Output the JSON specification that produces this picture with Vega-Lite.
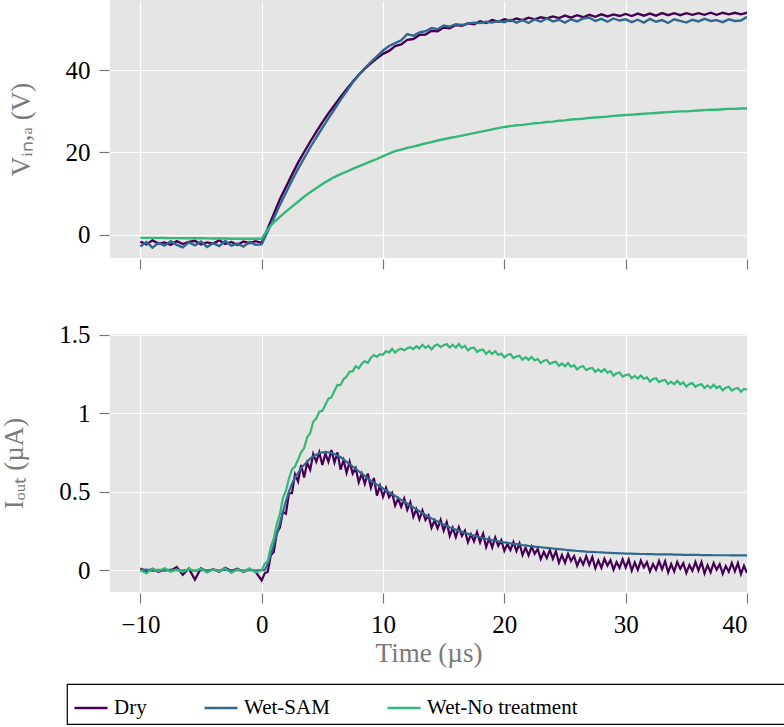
{
  "$schema": "https://vega.github.io/schema/vega-lite/v6.json",
  "padding": {"left": 0, "top": 0, "right": 0, "bottom": 0},
  "bounds": "flush",
  "spacing": 76,
  "config": {
    "font": "Liberation Serif",
    "view": {"fill": "#e5e5e5", "stroke": null},
    "axis": {
      "domain": false, "grid": true, "gridColor": "white", "gridWidth": 1.2,
      "tickColor": "#777", "tickSize": 10, "tickWidth": 1.2, "offset": 1,
      "labelFont": "Liberation Serif", "labelFontSize": 25, "labelColor": "black", "labelPadding": 9,
      "titleFont": "Liberation Serif", "titleFontSize": 27, "titleColor": "#7a7a7a", "titleFontWeight": "normal"
    },
    "legend": {
      "orient": "none", "legendX": -43, "legendY": 684,
      "direction": "horizontal", "columns": 3, "columnPadding": 52,
      "strokeColor": "black", "strokeWidth": 1.2, "padding": 6, "cornerRadius": 0,
      "symbolType": "stroke", "symbolSize": 1089, "symbolStrokeWidth": 2.5,
      "labelFont": "Liberation Serif", "labelFontSize": 21, "labelColor": "black", "labelOffset": 5, "labelLimit": 400,
      "titleOrient": "right", "titlePadding": 300, "titleFontSize": 4, "titleColor": "white"
    }
  },
  "datasets": {
    "v": [
      {"t":-10,"Dry":-1.7,"Wet-SAM":-2.9,"Wet-No treatment":-0.8},
      {"t":-9.5,"Dry":-2.4,"Wet-SAM":-1.8,"Wet-No treatment":-0.8},
      {"t":-9,"Dry":-1.4,"Wet-SAM":-3.2,"Wet-No treatment":-0.8},
      {"t":-8.5,"Dry":-2.2,"Wet-SAM":-2.0,"Wet-No treatment":-0.8},
      {"t":-8,"Dry":-1.9,"Wet-SAM":-2.7,"Wet-No treatment":-0.82},
      {"t":-7.5,"Dry":-2.5,"Wet-SAM":-1.6,"Wet-No treatment":-0.85},
      {"t":-7,"Dry":-1.6,"Wet-SAM":-2.5,"Wet-No treatment":-0.85},
      {"t":-6.5,"Dry":-2.3,"Wet-SAM":-3.1,"Wet-No treatment":-0.88},
      {"t":-6,"Dry":-1.8,"Wet-SAM":-1.9,"Wet-No treatment":-0.9},
      {"t":-5.5,"Dry":-1.5,"Wet-SAM":-2.6,"Wet-No treatment":-0.9},
      {"t":-5,"Dry":-2.4,"Wet-SAM":-1.7,"Wet-No treatment":-0.9},
      {"t":-4.5,"Dry":-1.9,"Wet-SAM":-3.0,"Wet-No treatment":-0.92},
      {"t":-4,"Dry":-2.2,"Wet-SAM":-2.1,"Wet-No treatment":-0.95},
      {"t":-3.5,"Dry":-1.4,"Wet-SAM":-2.8,"Wet-No treatment":-0.95},
      {"t":-3,"Dry":-2.3,"Wet-SAM":-1.5,"Wet-No treatment":-0.97},
      {"t":-2.5,"Dry":-1.8,"Wet-SAM":-2.7,"Wet-No treatment":-1.0},
      {"t":-2,"Dry":-2.5,"Wet-SAM":-2.2,"Wet-No treatment":-1.0},
      {"t":-1.5,"Dry":-1.7,"Wet-SAM":-2.9,"Wet-No treatment":-1.0},
      {"t":-1,"Dry":-2.1,"Wet-SAM":-1.8,"Wet-No treatment":-1.0},
      {"t":-0.5,"Dry":-1.6,"Wet-SAM":-2.5,"Wet-No treatment":-1.0},
      {"t":0,"Dry":-2.0,"Wet-SAM":-2.4,"Wet-No treatment":-1.0},
      {"t":0.5,"Dry":1.5,"Wet-SAM":0.8,"Wet-No treatment":1.3},
      {"t":1,"Dry":5.0,"Wet-SAM":4.0,"Wet-No treatment":3.0},
      {"t":1.5,"Dry":8.6,"Wet-SAM":7.2,"Wet-No treatment":4.3},
      {"t":2,"Dry":11.6,"Wet-SAM":10.2,"Wet-No treatment":5.6},
      {"t":2.5,"Dry":14.6,"Wet-SAM":13.2,"Wet-No treatment":6.8},
      {"t":3,"Dry":17.5,"Wet-SAM":16.0,"Wet-No treatment":8.0},
      {"t":3.5,"Dry":20.1,"Wet-SAM":18.6,"Wet-No treatment":9.2},
      {"t":4,"Dry":22.6,"Wet-SAM":21.2,"Wet-No treatment":10.3},
      {"t":4.5,"Dry":25.0,"Wet-SAM":23.6,"Wet-No treatment":11.3},
      {"t":5,"Dry":27.3,"Wet-SAM":26.0,"Wet-No treatment":12.3},
      {"t":5.5,"Dry":29.5,"Wet-SAM":28.3,"Wet-No treatment":13.2},
      {"t":6,"Dry":31.5,"Wet-SAM":30.5,"Wet-No treatment":14.0},
      {"t":6.5,"Dry":33.5,"Wet-SAM":32.8,"Wet-No treatment":14.7},
      {"t":7,"Dry":35.4,"Wet-SAM":34.9,"Wet-No treatment":15.3},
      {"t":7.5,"Dry":37.2,"Wet-SAM":37.0,"Wet-No treatment":16.0},
      {"t":8,"Dry":38.9,"Wet-SAM":38.8,"Wet-No treatment":16.6},
      {"t":8.5,"Dry":40.4,"Wet-SAM":40.5,"Wet-No treatment":17.2},
      {"t":9,"Dry":41.7,"Wet-SAM":42.0,"Wet-No treatment":17.8},
      {"t":9.5,"Dry":42.9,"Wet-SAM":43.4,"Wet-No treatment":18.4},
      {"t":10,"Dry":44.0,"Wet-SAM":44.8,"Wet-No treatment":19.1},
      {"t":10.5,"Dry":44.7,"Wet-SAM":45.9,"Wet-No treatment":19.7},
      {"t":11,"Dry":45.9,"Wet-SAM":46.6,"Wet-No treatment":20.3},
      {"t":11.5,"Dry":46.3,"Wet-SAM":47.3,"Wet-No treatment":20.7},
      {"t":12,"Dry":47.4,"Wet-SAM":48.8,"Wet-No treatment":21.1},
      {"t":12.5,"Dry":47.6,"Wet-SAM":48.4,"Wet-No treatment":21.4},
      {"t":13,"Dry":48.6,"Wet-SAM":49.2,"Wet-No treatment":21.8},
      {"t":13.5,"Dry":48.7,"Wet-SAM":49.5,"Wet-No treatment":22.2},
      {"t":14,"Dry":49.6,"Wet-SAM":50.3,"Wet-No treatment":22.5},
      {"t":14.5,"Dry":49.5,"Wet-SAM":50.0,"Wet-No treatment":22.9},
      {"t":15,"Dry":50.4,"Wet-SAM":50.9,"Wet-No treatment":23.2},
      {"t":15.5,"Dry":50.2,"Wet-SAM":50.6,"Wet-No treatment":23.5},
      {"t":16,"Dry":51.0,"Wet-SAM":51.2,"Wet-No treatment":23.8},
      {"t":16.5,"Dry":50.8,"Wet-SAM":51.0,"Wet-No treatment":24.1},
      {"t":17,"Dry":51.4,"Wet-SAM":51.4,"Wet-No treatment":24.4},
      {"t":17.5,"Dry":51.2,"Wet-SAM":51.6,"Wet-No treatment":24.7},
      {"t":18,"Dry":51.9,"Wet-SAM":51.5,"Wet-No treatment":25.0},
      {"t":18.5,"Dry":51.5,"Wet-SAM":51.8,"Wet-No treatment":25.3},
      {"t":19,"Dry":52.2,"Wet-SAM":51.6,"Wet-No treatment":25.6},
      {"t":19.5,"Dry":51.8,"Wet-SAM":52.0,"Wet-No treatment":25.9},
      {"t":20,"Dry":52.4,"Wet-SAM":51.7,"Wet-No treatment":26.2},
      {"t":20.5,"Dry":52.0,"Wet-SAM":52.3,"Wet-No treatment":26.4},
      {"t":21,"Dry":52.6,"Wet-SAM":51.6,"Wet-No treatment":26.6},
      {"t":21.5,"Dry":52.2,"Wet-SAM":52.2,"Wet-No treatment":26.7},
      {"t":22,"Dry":52.8,"Wet-SAM":51.5,"Wet-No treatment":26.9},
      {"t":22.5,"Dry":52.4,"Wet-SAM":52.4,"Wet-No treatment":27.1},
      {"t":23,"Dry":52.9,"Wet-SAM":51.8,"Wet-No treatment":27.2},
      {"t":23.5,"Dry":52.6,"Wet-SAM":52.6,"Wet-No treatment":27.4},
      {"t":24,"Dry":53.1,"Wet-SAM":51.9,"Wet-No treatment":27.5},
      {"t":24.5,"Dry":52.7,"Wet-SAM":52.3,"Wet-No treatment":27.7},
      {"t":25,"Dry":53.3,"Wet-SAM":51.6,"Wet-No treatment":27.8},
      {"t":25.5,"Dry":52.8,"Wet-SAM":52.4,"Wet-No treatment":28.0},
      {"t":26,"Dry":53.4,"Wet-SAM":51.9,"Wet-No treatment":28.1},
      {"t":26.5,"Dry":52.9,"Wet-SAM":52.6,"Wet-No treatment":28.2},
      {"t":27,"Dry":53.5,"Wet-SAM":52.8,"Wet-No treatment":28.4},
      {"t":27.5,"Dry":53.0,"Wet-SAM":52.0,"Wet-No treatment":28.5},
      {"t":28,"Dry":53.6,"Wet-SAM":52.5,"Wet-No treatment":28.6},
      {"t":28.5,"Dry":53.1,"Wet-SAM":51.8,"Wet-No treatment":28.7},
      {"t":29,"Dry":53.6,"Wet-SAM":52.6,"Wet-No treatment":28.9},
      {"t":29.5,"Dry":53.2,"Wet-SAM":52.1,"Wet-No treatment":29.0},
      {"t":30,"Dry":53.7,"Wet-SAM":52.4,"Wet-No treatment":29.1},
      {"t":30.5,"Dry":53.2,"Wet-SAM":51.7,"Wet-No treatment":29.2},
      {"t":31,"Dry":53.8,"Wet-SAM":52.3,"Wet-No treatment":29.3},
      {"t":31.5,"Dry":53.3,"Wet-SAM":51.6,"Wet-No treatment":29.4},
      {"t":32,"Dry":53.8,"Wet-SAM":52.5,"Wet-No treatment":29.5},
      {"t":32.5,"Dry":53.3,"Wet-SAM":51.8,"Wet-No treatment":29.6},
      {"t":33,"Dry":53.9,"Wet-SAM":52.2,"Wet-No treatment":29.7},
      {"t":33.5,"Dry":53.4,"Wet-SAM":51.5,"Wet-No treatment":29.8},
      {"t":34,"Dry":53.9,"Wet-SAM":52.4,"Wet-No treatment":29.9},
      {"t":34.5,"Dry":53.4,"Wet-SAM":52.0,"Wet-No treatment":30.0},
      {"t":35,"Dry":53.9,"Wet-SAM":51.6,"Wet-No treatment":30.0},
      {"t":35.5,"Dry":53.5,"Wet-SAM":52.3,"Wet-No treatment":30.1},
      {"t":36,"Dry":53.9,"Wet-SAM":51.9,"Wet-No treatment":30.2},
      {"t":36.5,"Dry":53.5,"Wet-SAM":52.5,"Wet-No treatment":30.3},
      {"t":37,"Dry":54.0,"Wet-SAM":52.0,"Wet-No treatment":30.4},
      {"t":37.5,"Dry":53.5,"Wet-SAM":52.2,"Wet-No treatment":30.4},
      {"t":38,"Dry":54.0,"Wet-SAM":51.7,"Wet-No treatment":30.5},
      {"t":38.5,"Dry":53.6,"Wet-SAM":52.4,"Wet-No treatment":30.6},
      {"t":39,"Dry":54.0,"Wet-SAM":52.0,"Wet-No treatment":30.6},
      {"t":39.5,"Dry":53.6,"Wet-SAM":52.1,"Wet-No treatment":30.7},
      {"t":40,"Dry":54.0,"Wet-SAM":53.0,"Wet-No treatment":30.7}
    ],
    "i": [
      {"t":-10,"Dry":0.01,"Wet-SAM":0.0,"Wet-No treatment":0.0},
      {"t":-9.5,"Dry":-0.005,"Wet-SAM":0.003,"Wet-No treatment":-0.02},
      {"t":-9,"Dry":0.008,"Wet-SAM":-0.004,"Wet-No treatment":0.01},
      {"t":-8.5,"Dry":-0.01,"Wet-SAM":0.002,"Wet-No treatment":-0.005},
      {"t":-8,"Dry":0.005,"Wet-SAM":-0.003,"Wet-No treatment":0.012},
      {"t":-7.5,"Dry":-0.004,"Wet-SAM":0.004,"Wet-No treatment":-0.01},
      {"t":-7,"Dry":0.02,"Wet-SAM":0.0,"Wet-No treatment":0.005},
      {"t":-6.5,"Dry":-0.03,"Wet-SAM":-0.002,"Wet-No treatment":-0.012},
      {"t":-6,"Dry":0.01,"Wet-SAM":0.003,"Wet-No treatment":0.008},
      {"t":-5.5,"Dry":-0.06,"Wet-SAM":-0.004,"Wet-No treatment":-0.006},
      {"t":-5,"Dry":0.012,"Wet-SAM":0.002,"Wet-No treatment":0.01},
      {"t":-4.5,"Dry":-0.008,"Wet-SAM":-0.003,"Wet-No treatment":-0.015},
      {"t":-4,"Dry":0.006,"Wet-SAM":0.004,"Wet-No treatment":0.004},
      {"t":-3.5,"Dry":-0.01,"Wet-SAM":-0.002,"Wet-No treatment":-0.008},
      {"t":-3,"Dry":0.015,"Wet-SAM":0.003,"Wet-No treatment":0.012},
      {"t":-2.5,"Dry":-0.005,"Wet-SAM":-0.004,"Wet-No treatment":-0.018},
      {"t":-2,"Dry":0.01,"Wet-SAM":0.002,"Wet-No treatment":0.006},
      {"t":-1.5,"Dry":-0.012,"Wet-SAM":-0.003,"Wet-No treatment":-0.01},
      {"t":-1,"Dry":0.008,"Wet-SAM":0.001,"Wet-No treatment":0.012},
      {"t":-0.5,"Dry":-0.01,"Wet-SAM":-0.002,"Wet-No treatment":-0.015},
      {"t":0,"Dry":-0.065,"Wet-SAM":0.0,"Wet-No treatment":0.0},
      {"t":0.25,"Dry":-0.02,"Wet-SAM":0.0,"Wet-No treatment":0.04},
      {"t":0.5,"Dry":-0.01,"Wet-SAM":0.04,"Wet-No treatment":0.058},
      {"t":0.75,"Dry":0.095,"Wet-SAM":0.10,"Wet-No treatment":0.146},
      {"t":1,"Dry":0.116,"Wet-SAM":0.16,"Wet-No treatment":0.202},
      {"t":1.25,"Dry":0.237,"Wet-SAM":0.23,"Wet-No treatment":0.295},
      {"t":1.5,"Dry":0.271,"Wet-SAM":0.30,"Wet-No treatment":0.356},
      {"t":1.75,"Dry":0.371,"Wet-SAM":0.37,"Wet-No treatment":0.459},
      {"t":2,"Dry":0.36,"Wet-SAM":0.44,"Wet-No treatment":0.505},
      {"t":2.25,"Dry":0.49,"Wet-SAM":0.50,"Wet-No treatment":0.584},
      {"t":2.5,"Dry":0.49,"Wet-SAM":0.55,"Wet-No treatment":0.642},
      {"t":2.75,"Dry":0.61,"Wet-SAM":0.59,"Wet-No treatment":0.66},
      {"t":3,"Dry":0.565,"Wet-SAM":0.62,"Wet-No treatment":0.703},
      {"t":3.25,"Dry":0.67,"Wet-SAM":0.65,"Wet-No treatment":0.75},
      {"t":3.5,"Dry":0.59,"Wet-SAM":0.67,"Wet-No treatment":0.778},
      {"t":3.75,"Dry":0.685,"Wet-SAM":0.69,"Wet-No treatment":0.846},
      {"t":4,"Dry":0.64,"Wet-SAM":0.71,"Wet-No treatment":0.872},
      {"t":4.25,"Dry":0.74,"Wet-SAM":0.725,"Wet-No treatment":0.945},
      {"t":4.5,"Dry":0.69,"Wet-SAM":0.735,"Wet-No treatment":0.966},
      {"t":4.75,"Dry":0.75,"Wet-SAM":0.745,"Wet-No treatment":1.009},
      {"t":5,"Dry":0.67,"Wet-SAM":0.75,"Wet-No treatment":1.015},
      {"t":5.25,"Dry":0.742,"Wet-SAM":0.752,"Wet-No treatment":1.054},
      {"t":5.5,"Dry":0.69,"Wet-SAM":0.75,"Wet-No treatment":1.092},
      {"t":5.75,"Dry":0.765,"Wet-SAM":0.745,"Wet-No treatment":1.10},
      {"t":6,"Dry":0.685,"Wet-SAM":0.74,"Wet-No treatment":1.143},
      {"t":6.25,"Dry":0.75,"Wet-SAM":0.73,"Wet-No treatment":1.18},
      {"t":6.5,"Dry":0.64,"Wet-SAM":0.72,"Wet-No treatment":1.178},
      {"t":6.75,"Dry":0.70,"Wet-SAM":0.705,"Wet-No treatment":1.216},
      {"t":7,"Dry":0.62,"Wet-SAM":0.69,"Wet-No treatment":1.232},
      {"t":7.25,"Dry":0.69,"Wet-SAM":0.675,"Wet-No treatment":1.265},
      {"t":7.5,"Dry":0.615,"Wet-SAM":0.66,"Wet-No treatment":1.266},
      {"t":7.75,"Dry":0.65,"Wet-SAM":0.645,"Wet-No treatment":1.299},
      {"t":8,"Dry":0.56,"Wet-SAM":0.63,"Wet-No treatment":1.285},
      {"t":8.25,"Dry":0.615,"Wet-SAM":0.615,"Wet-No treatment":1.314},
      {"t":8.5,"Dry":0.55,"Wet-SAM":0.60,"Wet-No treatment":1.332},
      {"t":8.75,"Dry":0.615,"Wet-SAM":0.585,"Wet-No treatment":1.32},
      {"t":9,"Dry":0.525,"Wet-SAM":0.57,"Wet-No treatment":1.353},
      {"t":9.25,"Dry":0.587,"Wet-SAM":0.557,"Wet-No treatment":1.37},
      {"t":9.5,"Dry":0.475,"Wet-SAM":0.545,"Wet-No treatment":1.358},
      {"t":9.75,"Dry":0.538,"Wet-SAM":0.533,"Wet-No treatment":1.376},
      {"t":10,"Dry":0.468,"Wet-SAM":0.52,"Wet-No treatment":1.372},
      {"t":10.25,"Dry":0.524,"Wet-SAM":0.508,"Wet-No treatment":1.395},
      {"t":10.5,"Dry":0.464,"Wet-SAM":0.496,"Wet-No treatment":1.386},
      {"t":10.75,"Dry":0.492,"Wet-SAM":0.484,"Wet-No treatment":1.409},
      {"t":11,"Dry":0.412,"Wet-SAM":0.472,"Wet-No treatment":1.385},
      {"t":11.25,"Dry":0.456,"Wet-SAM":0.46,"Wet-No treatment":1.404},
      {"t":11.5,"Dry":0.404,"Wet-SAM":0.448,"Wet-No treatment":1.41},
      {"t":11.75,"Dry":0.456,"Wet-SAM":0.436,"Wet-No treatment":1.40},
      {"t":12,"Dry":0.384,"Wet-SAM":0.424,"Wet-No treatment":1.413},
      {"t":12.25,"Dry":0.432,"Wet-SAM":0.412,"Wet-No treatment":1.42},
      {"t":12.5,"Dry":0.34,"Wet-SAM":0.40,"Wet-No treatment":1.408},
      {"t":12.75,"Dry":0.388,"Wet-SAM":0.388,"Wet-No treatment":1.426},
      {"t":13,"Dry":0.324,"Wet-SAM":0.376,"Wet-No treatment":1.412},
      {"t":13.25,"Dry":0.38,"Wet-SAM":0.364,"Wet-No treatment":1.435},
      {"t":13.5,"Dry":0.32,"Wet-SAM":0.352,"Wet-No treatment":1.416},
      {"t":13.75,"Dry":0.349,"Wet-SAM":0.341,"Wet-No treatment":1.429},
      {"t":14,"Dry":0.27,"Wet-SAM":0.33,"Wet-No treatment":1.405},
      {"t":14.25,"Dry":0.316,"Wet-SAM":0.32,"Wet-No treatment":1.429},
      {"t":14.5,"Dry":0.266,"Wet-SAM":0.31,"Wet-No treatment":1.437},
      {"t":14.75,"Dry":0.32,"Wet-SAM":0.30,"Wet-No treatment":1.42},
      {"t":15,"Dry":0.252,"Wet-SAM":0.29,"Wet-No treatment":1.433},
      {"t":15.25,"Dry":0.305,"Wet-SAM":0.282,"Wet-No treatment":1.44},
      {"t":15.5,"Dry":0.218,"Wet-SAM":0.274,"Wet-No treatment":1.418},
      {"t":15.75,"Dry":0.27,"Wet-SAM":0.266,"Wet-No treatment":1.436},
      {"t":16,"Dry":0.211,"Wet-SAM":0.258,"Wet-No treatment":1.417},
      {"t":16.25,"Dry":0.273,"Wet-SAM":0.251,"Wet-No treatment":1.44},
      {"t":16.5,"Dry":0.218,"Wet-SAM":0.244,"Wet-No treatment":1.416},
      {"t":16.75,"Dry":0.252,"Wet-SAM":0.237,"Wet-No treatment":1.429},
      {"t":17,"Dry":0.178,"Wet-SAM":0.231,"Wet-No treatment":1.40},
      {"t":17.25,"Dry":0.228,"Wet-SAM":0.225,"Wet-No treatment":1.414},
      {"t":17.5,"Dry":0.183,"Wet-SAM":0.22,"Wet-No treatment":1.417},
      {"t":17.75,"Dry":0.242,"Wet-SAM":0.215,"Wet-No treatment":1.39},
      {"t":18,"Dry":0.177,"Wet-SAM":0.21,"Wet-No treatment":1.403},
      {"t":18.25,"Dry":0.232,"Wet-SAM":0.205,"Wet-No treatment":1.405},
      {"t":18.5,"Dry":0.147,"Wet-SAM":0.20,"Wet-No treatment":1.378},
      {"t":18.75,"Dry":0.202,"Wet-SAM":0.196,"Wet-No treatment":1.396},
      {"t":19,"Dry":0.145,"Wet-SAM":0.192,"Wet-No treatment":1.377},
      {"t":19.25,"Dry":0.208,"Wet-SAM":0.188,"Wet-No treatment":1.395},
      {"t":19.5,"Dry":0.155,"Wet-SAM":0.184,"Wet-No treatment":1.371},
      {"t":19.75,"Dry":0.191,"Wet-SAM":0.18,"Wet-No treatment":1.379},
      {"t":20,"Dry":0.123,"Wet-SAM":0.177,"Wet-No treatment":1.355},
      {"t":20.25,"Dry":0.167,"Wet-SAM":0.174,"Wet-No treatment":1.371},
      {"t":20.5,"Dry":0.128,"Wet-SAM":0.171,"Wet-No treatment":1.376},
      {"t":20.75,"Dry":0.179,"Wet-SAM":0.168,"Wet-No treatment":1.351},
      {"t":21,"Dry":0.122,"Wet-SAM":0.166,"Wet-No treatment":1.361},
      {"t":21.25,"Dry":0.17,"Wet-SAM":0.163,"Wet-No treatment":1.365},
      {"t":21.5,"Dry":0.096,"Wet-SAM":0.16,"Wet-No treatment":1.34},
      {"t":21.75,"Dry":0.144,"Wet-SAM":0.158,"Wet-No treatment":1.356},
      {"t":22,"Dry":0.094,"Wet-SAM":0.155,"Wet-No treatment":1.339},
      {"t":22.25,"Dry":0.15,"Wet-SAM":0.153,"Wet-No treatment":1.359},
      {"t":22.5,"Dry":0.104,"Wet-SAM":0.15,"Wet-No treatment":1.336},
      {"t":22.75,"Dry":0.135,"Wet-SAM":0.148,"Wet-No treatment":1.346},
      {"t":23,"Dry":0.071,"Wet-SAM":0.146,"Wet-No treatment":1.319},
      {"t":23.25,"Dry":0.116,"Wet-SAM":0.144,"Wet-No treatment":1.334},
      {"t":23.5,"Dry":0.077,"Wet-SAM":0.142,"Wet-No treatment":1.339},
      {"t":23.75,"Dry":0.129,"Wet-SAM":0.14,"Wet-No treatment":1.314},
      {"t":24,"Dry":0.072,"Wet-SAM":0.138,"Wet-No treatment":1.323},
      {"t":24.25,"Dry":0.121,"Wet-SAM":0.136,"Wet-No treatment":1.327},
      {"t":24.5,"Dry":0.047,"Wet-SAM":0.134,"Wet-No treatment":1.301},
      {"t":24.75,"Dry":0.097,"Wet-SAM":0.132,"Wet-No treatment":1.316},
      {"t":25,"Dry":0.047,"Wet-SAM":0.13,"Wet-No treatment":1.299},
      {"t":25.25,"Dry":0.104,"Wet-SAM":0.128,"Wet-No treatment":1.318},
      {"t":25.5,"Dry":0.058,"Wet-SAM":0.126,"Wet-No treatment":1.296},
      {"t":25.75,"Dry":0.09,"Wet-SAM":0.124,"Wet-No treatment":1.305},
      {"t":26,"Dry":0.028,"Wet-SAM":0.122,"Wet-No treatment":1.278},
      {"t":26.25,"Dry":0.074,"Wet-SAM":0.121,"Wet-No treatment":1.294},
      {"t":26.5,"Dry":0.036,"Wet-SAM":0.12,"Wet-No treatment":1.299},
      {"t":26.75,"Dry":0.089,"Wet-SAM":0.118,"Wet-No treatment":1.274},
      {"t":27,"Dry":0.034,"Wet-SAM":0.117,"Wet-No treatment":1.284},
      {"t":27.25,"Dry":0.084,"Wet-SAM":0.116,"Wet-No treatment":1.288},
      {"t":27.5,"Dry":0.012,"Wet-SAM":0.115,"Wet-No treatment":1.263},
      {"t":27.75,"Dry":0.062,"Wet-SAM":0.114,"Wet-No treatment":1.278},
      {"t":28,"Dry":0.015,"Wet-SAM":0.113,"Wet-No treatment":1.262},
      {"t":28.25,"Dry":0.073,"Wet-SAM":0.112,"Wet-No treatment":1.281},
      {"t":28.5,"Dry":0.03,"Wet-SAM":0.111,"Wet-No treatment":1.258},
      {"t":28.75,"Dry":0.064,"Wet-SAM":0.11,"Wet-No treatment":1.267},
      {"t":29,"Dry":0.003,"Wet-SAM":0.109,"Wet-No treatment":1.239},
      {"t":29.25,"Dry":0.051,"Wet-SAM":0.108,"Wet-No treatment":1.254},
      {"t":29.5,"Dry":0.015,"Wet-SAM":0.107,"Wet-No treatment":1.259},
      {"t":29.75,"Dry":0.07,"Wet-SAM":0.107,"Wet-No treatment":1.233},
      {"t":30,"Dry":0.017,"Wet-SAM":0.106,"Wet-No treatment":1.243},
      {"t":30.25,"Dry":0.068,"Wet-SAM":0.105,"Wet-No treatment":1.247},
      {"t":30.5,"Dry":-0.003,"Wet-SAM":0.105,"Wet-No treatment":1.222},
      {"t":30.75,"Dry":0.049,"Wet-SAM":0.104,"Wet-No treatment":1.237},
      {"t":31,"Dry":0.002,"Wet-SAM":0.104,"Wet-No treatment":1.22},
      {"t":31.25,"Dry":0.061,"Wet-SAM":0.103,"Wet-No treatment":1.24},
      {"t":31.5,"Dry":0.018,"Wet-SAM":0.103,"Wet-No treatment":1.218},
      {"t":31.75,"Dry":0.051,"Wet-SAM":0.102,"Wet-No treatment":1.228},
      {"t":32,"Dry":-0.009,"Wet-SAM":0.102,"Wet-No treatment":1.201},
      {"t":32.25,"Dry":0.039,"Wet-SAM":0.102,"Wet-No treatment":1.217},
      {"t":32.5,"Dry":0.003,"Wet-SAM":0.101,"Wet-No treatment":1.222},
      {"t":32.75,"Dry":0.058,"Wet-SAM":0.101,"Wet-No treatment":1.197},
      {"t":33,"Dry":0.005,"Wet-SAM":0.101,"Wet-No treatment":1.207},
      {"t":33.25,"Dry":0.057,"Wet-SAM":0.1,"Wet-No treatment":1.211},
      {"t":33.5,"Dry":-0.014,"Wet-SAM":0.1,"Wet-No treatment":1.186},
      {"t":33.75,"Dry":0.039,"Wet-SAM":0.1,"Wet-No treatment":1.201},
      {"t":34,"Dry":-0.008,"Wet-SAM":0.099,"Wet-No treatment":1.184},
      {"t":34.25,"Dry":0.052,"Wet-SAM":0.099,"Wet-No treatment":1.205},
      {"t":34.5,"Dry":0.009,"Wet-SAM":0.099,"Wet-No treatment":1.184},
      {"t":34.75,"Dry":0.044,"Wet-SAM":0.098,"Wet-No treatment":1.195},
      {"t":35,"Dry":-0.017,"Wet-SAM":0.098,"Wet-No treatment":1.169},
      {"t":35.25,"Dry":0.032,"Wet-SAM":0.098,"Wet-No treatment":1.186},
      {"t":35.5,"Dry":-0.004,"Wet-SAM":0.097,"Wet-No treatment":1.192},
      {"t":35.75,"Dry":0.052,"Wet-SAM":0.097,"Wet-No treatment":1.168},
      {"t":36,"Dry":-0.002,"Wet-SAM":0.097,"Wet-No treatment":1.179},
      {"t":36.25,"Dry":0.051,"Wet-SAM":0.096,"Wet-No treatment":1.184},
      {"t":36.5,"Dry":-0.02,"Wet-SAM":0.096,"Wet-No treatment":1.16},
      {"t":36.75,"Dry":0.032,"Wet-SAM":0.096,"Wet-No treatment":1.176},
      {"t":37,"Dry":-0.014,"Wet-SAM":0.096,"Wet-No treatment":1.16},
      {"t":37.25,"Dry":0.046,"Wet-SAM":0.095,"Wet-No treatment":1.181},
      {"t":37.5,"Dry":0.003,"Wet-SAM":0.095,"Wet-No treatment":1.16},
      {"t":37.75,"Dry":0.038,"Wet-SAM":0.095,"Wet-No treatment":1.171},
      {"t":38,"Dry":-0.023,"Wet-SAM":0.095,"Wet-No treatment":1.145},
      {"t":38.25,"Dry":0.026,"Wet-SAM":0.095,"Wet-No treatment":1.162},
      {"t":38.5,"Dry":-0.01,"Wet-SAM":0.095,"Wet-No treatment":1.168},
      {"t":38.75,"Dry":0.046,"Wet-SAM":0.094,"Wet-No treatment":1.144},
      {"t":39,"Dry":-0.007,"Wet-SAM":0.094,"Wet-No treatment":1.155},
      {"t":39.25,"Dry":0.045,"Wet-SAM":0.094,"Wet-No treatment":1.16},
      {"t":39.5,"Dry":-0.025,"Wet-SAM":0.094,"Wet-No treatment":1.137},
      {"t":39.75,"Dry":0.028,"Wet-SAM":0.094,"Wet-No treatment":1.154},
      {"t":40,"Dry":-0.018,"Wet-SAM":0.094,"Wet-No treatment":1.15}
    ]
  },
  "vconcat": [
    {
      "width": 637, "height": 258,
      "data": {"name": "v"},
      "transform": [{"fold": ["Dry", "Wet-SAM", "Wet-No treatment"], "as": ["series", "val"]}],
      "mark": {"type": "line", "strokeWidth": 2.4, "clip": true},
      "encoding": {
        "x": {"field": "t", "type": "quantitative", "scale": {"domain": [-12.5, 40], "nice": false, "zero": false},
              "axis": {"values": [-10, 0, 10, 20, 30, 40], "labels": false, "title": null}},
        "y": {"field": "val", "type": "quantitative", "scale": {"domain": [-5.7, 57.1], "nice": false, "zero": false},
              "axis": {"values": [0, 20, 40], "title": "Vᵢₙ,ₐ (V)", "titlePadding": 30}},
        "color": {"field": "series", "type": "nominal",
                  "scale": {"domain": ["Dry", "Wet-SAM", "Wet-No treatment"], "range": ["#440154", "#31688e", "#35b779"]},
                  "legend": {"title": " ", "labelFont": "Liberation Serif"}}
      }
    },
    {
      "width": 637, "height": 258,
      "data": {"name": "i"},
      "transform": [{"fold": ["Dry", "Wet-SAM", "Wet-No treatment"], "as": ["series", "val"]}],
      "mark": {"type": "line", "strokeWidth": 2.2, "clip": true},
      "encoding": {
        "x": {"field": "t", "type": "quantitative", "scale": {"domain": [-12.5, 40], "nice": false, "zero": false},
              "axis": {"values": [-10, 0, 10, 20, 30, 40], "title": "Time (µs)", "titlePadding": 3}},
        "y": {"field": "val", "type": "quantitative", "scale": {"domain": [-0.139, 1.504], "nice": false, "zero": false},
              "axis": {"values": [0, 0.5, 1, 1.5], "format": "~g", "title": "Iₒᵤₜ (µA)", "titlePadding": 30}},
        "color": {"field": "series", "type": "nominal",
                  "scale": {"domain": ["Dry", "Wet-SAM", "Wet-No treatment"], "range": ["#440154", "#31688e", "#35b779"]},
                  "legend": {"title": " ", "labelFont": "Liberation Serif"}}
      }
    }
  ]
}
